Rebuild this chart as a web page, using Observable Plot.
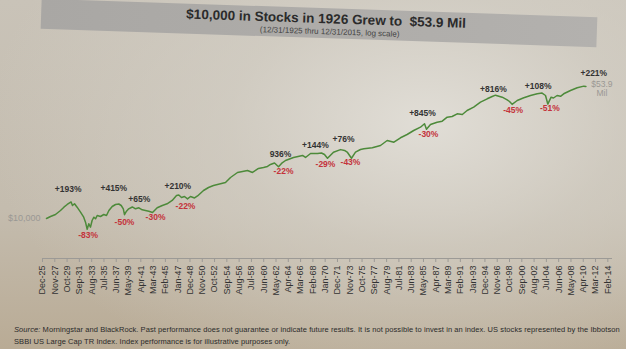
<!DOCTYPE html>
<html>
<head>
<meta charset="utf-8">
<script src="https://cdn.jsdelivr.net/npm/d3@7"></script>
<script src="https://cdn.jsdelivr.net/npm/@observablehq/plot@0.6"></script>
<style>
  html, body { margin: 0; padding: 0; }
  body {
    width: 626px; height: 349px; position: relative; overflow: hidden;
    font-family: "Liberation Sans", Arial, sans-serif;
    background:
      radial-gradient(ellipse 70% 80% at 68% 35%, rgba(226,223,216,0.95) 0%, rgba(214,210,201,0.6) 45%, rgba(214,210,201,0) 100%),
      linear-gradient(to bottom, #c9c3b8 0%, #c4bcae 60%, #b9ab95 100%);
  }
  #band {
    position: absolute; left: 41px; top: 8px; width: 556px; height: 30px;
    background: linear-gradient(to right, #a9a7a4, #b3b1ae);
    transform: rotate(1.9deg);
  }
  #title {
    position: absolute; left: 0; width: 100%; top: 3px; text-align: center;
    font-size: 13.5px; font-weight: bold; color: #2b2b2b; padding-left: 14px; box-sizing: border-box;
  }
  #subtitle {
    position: absolute; left: 0; width: 100%; top: 19px; text-align: center;
    font-size: 8px; color: #444; padding-left: 22px; box-sizing: border-box;
  }
  #chart { position: absolute; left: 0; top: 48px; }
  #caption {
    position: absolute; left: 14px; top: 324px; width: 600px;
    font-size: 7.5px; letter-spacing: 0.08px; line-height: 12px; color: #2a2a2a; white-space: nowrap;
  }
</style>
</head>
<body>
<div id="band">
  <div id="title">$10,000 in Stocks in 1926 Grew to&nbsp; $53.9 Mil</div>
  <div id="subtitle">(12/31/1925 thru 12/31/2015, log scale)</div>
</div>
<div id="chart"></div>
<div id="caption"><i>Source:</i> Morningstar and BlackRock. Past performance does not guarantee or indicate future results. It is not possible to invest in an index. US stocks represented by the Ibbotson<br>SBBI US Large Cap TR Index. Index performance is for illustrative purposes only.</div>
<script>
// Growth of $10,000 (year, dollars)
const growth = [
  [1926.0,10000],[1926.67,11390],[1927.5,12970],[1928.33,16820],[1928.9,20850],[1929.45,24860],
  [1930.1,29300],[1930.33,23290],[1930.67,26020],[1931.1,20850],[1931.67,15070],[1932.2,10880],
  [1932.5,7860],[1932.78,4980],[1933.05,7080],[1933.33,5680],[1933.6,8780],[1933.9,10880],
  [1934.17,9810],[1934.45,12150],[1935.0,11390],[1935.55,12970],[1936.0,12150],[1936.4,16820],
  [1936.95,21820],[1937.5,24860],[1938.05,25650],[1938.45,23290],[1938.8,18790],[1939.0,12830],
  [1939.33,16080],[1939.7,18790],[1940.3,21170],[1940.83,18790],[1941.4,20050],[1941.95,17610],
  [1942.5,16820],[1943.05,16080],[1943.67,14820],[1944.45,20050],[1945.3,23290],[1946.1,26020],
  [1946.95,32250],[1947.67,44640],[1948.05,45940],[1948.5,39200],[1949.0,41830],[1949.5,35830],
  [1950.0,41830],[1950.67,37940],[1951.17,43210],[1952.17,61800],[1953.0,75100],[1953.83,85500],
  [1955.0,95900],[1955.83,104000],[1956.67,143900],[1957.83,199300],[1958.67,212700],[1959.5,227000],
  [1960.33,199300],[1961.33,259000],[1962.17,275900],[1962.83,294400],[1963.33,335200],[1964.0,371200],
  [1964.67,289500],[1965.17,359000],[1965.83,435000],[1967.17,528700],[1968.67,602200],[1969.17,528700],
  [1970.0,686000],[1971.17,690000],[1971.83,706400],[1972.33,642700],[1972.83,501500],[1973.83,746300],
  [1975.0,882600],[1975.67,833700],[1976.17,731800],[1976.83,503100],[1977.5,746300],[1978.33,889700],
  [1978.9,931000],[1980.3,994000],[1981.67,1154000],[1982.78,1597000],[1983.9,1430000],[1985.0,1904000],
  [1986.1,2360000],[1987.2,3062000],[1988.33,3794000],[1989.0,4754000],[1989.33,3328000],[1990.0,4522000],
  [1991.1,5253000],[1991.95,5606000],[1992.78,7271000],[1993.6,7610000],[1994.45,9071000],[1995.3,8669000],
  [1996.1,11240000],[1997.2,13940000],[1998.33,19300000],[1999.45,24060000],[2000.28,27950000],[2000.83,30480000],
  [2001.95,26710000],[2002.78,22550000],[2003.17,20190000],[2003.6,16760000],[2004.45,21550000],[2005.55,25690000],
  [2006.67,29830000],[2007.78,33320000],[2008.6,34860000],[2009.17,29830000],[2009.55,17080000],[2010.1,26710000],
  [2010.5,25350000],[2011.1,29830000],[2011.67,28310000],[2012.2,33320000],[2013.33,41290000],[2014.45,49220000],
  [2015.55,54830000],[2015.9,53900000]
];

// Bull / bear swings: label, year, dollars, direction
const swings = [
  ["+193%",1930.1,29300,"up"],   ["-83%",1932.78,4980,"down"],
  ["+415%",1938.05,25650,"up"],  ["-50%",1939.0,12830,"down"],
  ["+65%",1940.3,21170,"up"],    ["-30%",1943.67,14820,"down"],
  ["+210%",1948.05,45940,"up"],  ["-22%",1949.5,35830,"down"],
  ["936%",1964.0,371200,"up"],   ["-22%",1964.67,289500,"down"],
  ["+144%",1971.83,706400,"up"], ["-29%",1972.83,501500,"down"],
  ["+76%",1975.0,882600,"up"],   ["-43%",1976.83,503100,"down"],
  ["+845%",1989.0,4754000,"up"], ["-30%",1989.33,3328000,"down"],
  ["+816%",2000.83,30480000,"up"],["-45%",2003.6,16760000,"down"],
  ["+108%",2008.6,34860000,"up"],["-51%",2009.55,17080000,"down"],
  ["+221%",2015.55,54830000,"up"]
];

const tickLabels = ["Dec-25","Nov-27","Oct-29","Sep-31","Aug-33","Jul-35","Jun-37","May-39","Apr-41","Mar-43",
  "Feb-45","Jan-47","Dec-48","Nov-50","Oct-52","Sep-54","Aug-56","Jul-58","Jun-60","May-62","Apr-64","Mar-66",
  "Feb-68","Jan-70","Dec-71","Nov-73","Oct-75","Sep-77","Aug-79","Jul-81","Jun-83","May-85","Apr-87","Mar-89",
  "Feb-91","Jan-93","Dec-94","Nov-96","Oct-98","Sep-00","Aug-02","Jul-04","Jun-06","May-08","Apr-10","Mar-12","Feb-14"];

const startLabel = ["$10,000", 1926.0, 10000];
const endLabel = ["$53.9\nMil", 2015.9, 53900000];

// ---- styling / layout (not data) ----
// pixel nudges of each swing label relative to its turning point
const swingNudge = [
  [-3,-13],[1,6],[-5,-16],[0,8],[7,-8],[3,5],[-1,-9],[-2,7],[6,-9],[5,5],
  [-6,-8],[-2,6],[3,-10],[-1,4],[-2,-10],[2,5],[-2,-6],[1,6],[-4,-7],[2,4],[10,-13]
];
const axisStart = 1925.333, slot = 2.0483;
const tickPos = tickLabels.map((_, i) => +(axisStart + slot * i).toFixed(4));
const tickMap = new Map(tickPos.map((p, i) => [p, tickLabels[i]]));
const yMin = 741, yMax = 6.34e8;

const swingMarks = swings.map((s, i) => Plot.text([s], {
  x: d => d[1], y: d => d[2], text: d => d[0],
  dx: swingNudge[i][0], dy: swingNudge[i][1],
  fill: s[3] === "up" ? "#333" : "#c4333b", fontSize: 8.5, fontWeight: "bold"
}));

const chart = Plot.plot({
  width: 626, height: 268,
  marginLeft: 42, marginRight: 14, marginTop: 0, marginBottom: 58,
  x: {domain: [1925.333, 2020.333], axis: null},
  y: {type: "log", domain: [yMin, yMax], axis: null},
  style: {background: "transparent", fontFamily: "'Liberation Sans', Arial, sans-serif", overflow: "visible"},
  marks: [
    Plot.ruleY([yMin], {stroke: "#9c9a96", strokeWidth: 1}),
    Plot.axisX({ticks: tickPos, tickFormat: d => tickMap.get(d), tickRotate: -90, tickSize: 4,
                tickPadding: 3, fontSize: 9, color: "#333", stroke: "#9c9a96"}),
    Plot.line(growth, {x: d => d[0], y: d => d[1], stroke: "#4d8a3a", strokeWidth: 1.5}),
    ...swingMarks,
    Plot.text([startLabel], {x: d => d[1], y: d => d[2], text: d => d[0], textAnchor: "end", dx: -6,
                             fill: "#9a9894", fontSize: 9}),
    Plot.text([endLabel], {x: d => d[1], y: d => d[2], text: d => d[0], textAnchor: "middle", dx: 16, dy: 2,
                           fill: "#9a9894", fontSize: 8.5, lineHeight: 1.05})
  ]
});
document.getElementById("chart").appendChild(chart);
</script>
</body>
</html>
